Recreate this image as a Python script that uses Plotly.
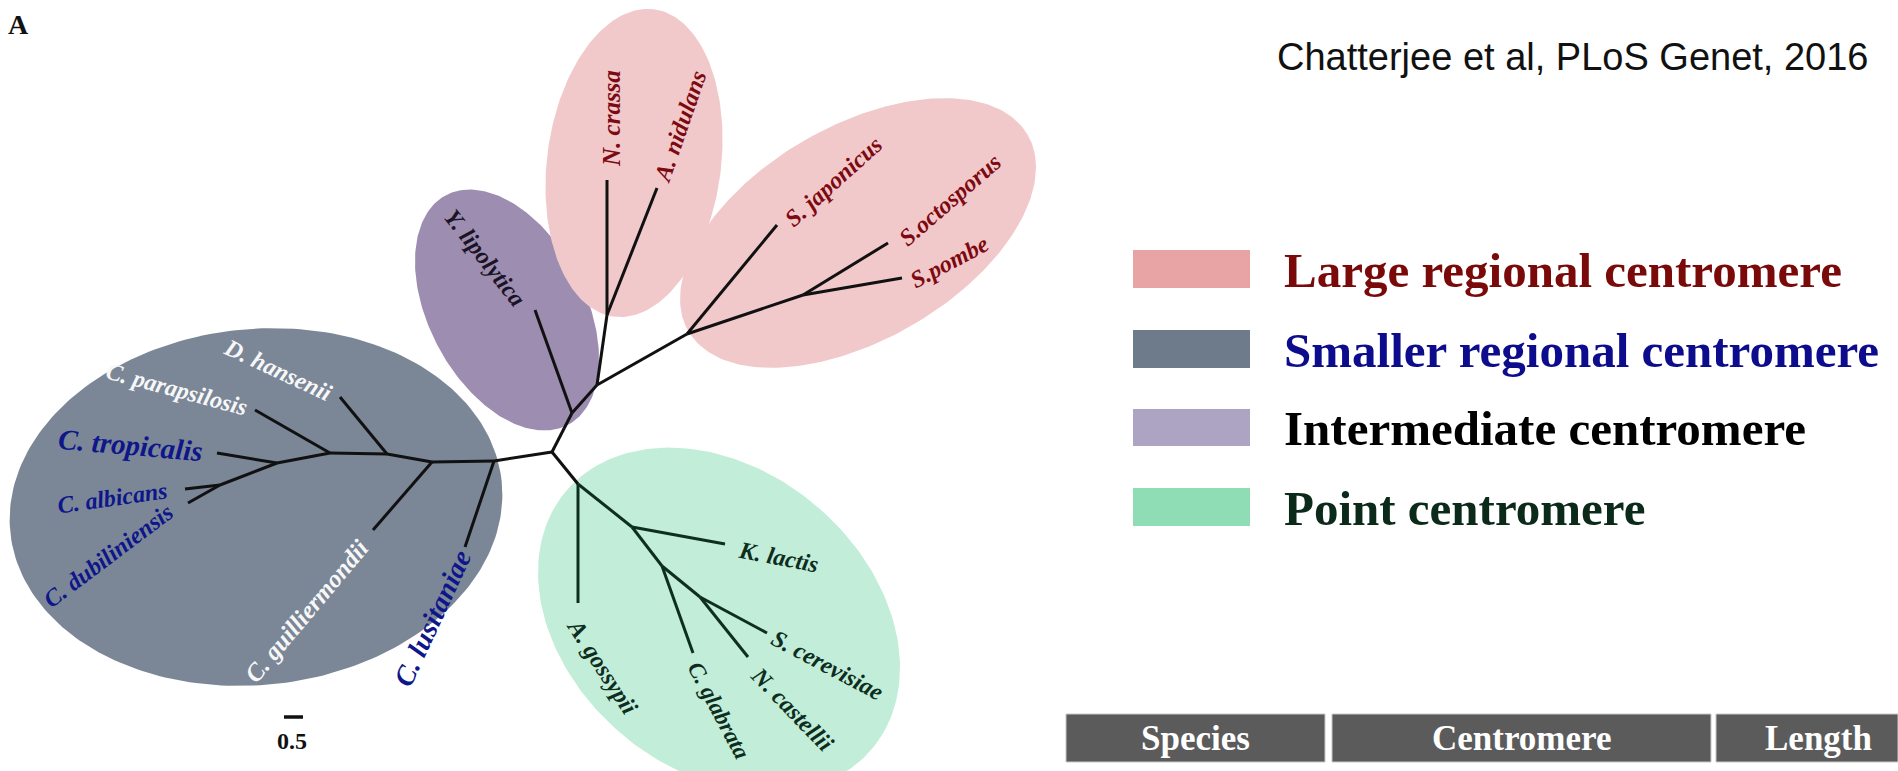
import numpy as np
import plotly.graph_objects as go

W, H = 1898, 771

# ---------------- tree layout (node positions, layout units) ----------------
node_id = ["root", "lusN", "guiN", "hanN", "parN", "troN", "albN",
           "lus", "gui", "han", "par", "tro", "alb", "dub",
           "yliN", "yli", "fungN", "pezN", "ncr", "anid",
           "schN", "sjap", "pomN", "soct", "spom",
           "agoN", "agos", "klaN", "klac", "cglN", "cgla", "sceN", "scer", "ncas"]
node_x = [552, 494, 432, 387, 330, 277, 220,
          465, 373, 340, 255, 217, 185, 188,
          572, 535, 597, 607, 607, 657,
          687, 777, 803, 888, 902,
          578, 578, 632, 725, 662, 693, 700, 767, 748]
node_y = [452, 461, 462, 454, 453, 463, 485,
          547, 530, 397, 410, 453, 489, 503,
          413, 310, 385, 315, 180, 188,
          334, 225, 295, 243, 278,
          484, 603, 527, 544, 566, 653, 597, 633, 657]

edges_dark = [("root", "lusN"), ("lusN", "guiN"), ("guiN", "hanN"), ("hanN", "parN"),
              ("parN", "troN"), ("troN", "tro"), ("troN", "albN"), ("albN", "alb"),
              ("albN", "dub"), ("parN", "par"), ("hanN", "han"), ("guiN", "gui"),
              ("lusN", "lus"), ("root", "yliN"), ("yliN", "yli"), ("yliN", "fungN"),
              ("fungN", "pezN"), ("pezN", "ncr"), ("pezN", "anid"), ("fungN", "schN"),
              ("schN", "sjap"), ("schN", "pomN"), ("pomN", "soct"), ("pomN", "spom"),
              ("root", "agoN")]
edges_green = [("agoN", "agos"), ("agoN", "klaN"), ("klaN", "klac"), ("klaN", "cglN"),
               ("cglN", "cgla"), ("cglN", "sceN"), ("sceN", "scer"), ("sceN", "ncas")]

# ---------------- clade ellipses ----------------
ell_cx = [256, 507, 634, 858, 719]
ell_cy = [507, 310, 163, 233, 620]
ell_a = [247, 130, 155, 196, 200]
ell_b = [178, 78, 87, 107, 150]
ell_rot = [-6, 62, -82.6, -30, 40]
ell_fill = ["#7B8797", "#9D8DB1", "#F2C9CB", "#F2C9CB", "#C2EDD8"]

# ---------------- species labels ----------------
lab_text = ["D. hansenii", "C. parapsilosis", "C. tropicalis", "C. albicans",
            "C. dubiliniensis", "C. guilliermondii", "C. lusitaniae",
            "Y. lipolytica", "N. crassa", "A. nidulans", "S. japonicus",
            "S.octosporus", "S.pombe", "K. lactis", "A. gossypii",
            "C. glabrata", "N. castellii", "S. cerevisiae"]
lab_x = [278, 176, 130, 112, 108, 306, 432, 485, 611, 680, 833, 950, 949,
         778, 602, 719, 792, 827]
lab_y = [370, 389, 445, 498, 556, 611, 618, 258, 119, 127, 182, 200, 262,
         557, 666, 710, 709, 665]
lab_angle = [25, 15, 5, -8, -37, -50, -65, 52, -90, -71, -42, -41, -28,
             11, 57, 62, 46, 28]
lab_size = [24, 24, 29, 24, 24, 25, 28, 24, 25, 24, 24, 24, 24,
            24, 24, 23, 24, 24]
WHITE, NAVY, DKRED, DKGRN, DARK = "#F7F7F7", "#0E168A", "#7D0A12", "#0D2E1E", "#1B1426"
lab_color = [WHITE, WHITE, NAVY, NAVY, NAVY, WHITE, NAVY, DARK, DKRED, DKRED,
             DKRED, DKRED, DKRED, DKGRN, DKGRN, DKGRN, DKGRN, DKGRN]

# ---------------- legend ----------------
leg_text = ["Large regional centromere", "Smaller regional centromere",
            "Intermediate centromere", "Point centromere"]
leg_box_color = ["#E8A3A5", "#6E7B8B", "#ADA3C2", "#8EDDB5"]
leg_text_color = ["#7A0A0A", "#0C0C8C", "#000000", "#0B2A1A"]
leg_y0 = [250, 330, 409, 488]
leg_y1 = [288, 368, 446, 526]

# ---------------- table header ----------------
tab_text = ["Species", "Centromere", "Length"]
tab_x0 = [1066, 1332, 1716]
tab_x1 = [1325, 1711, 1898]

citation = "Chatterjee et al, PLoS Genet, 2016"

fig = go.Figure()

# ellipses
t = np.linspace(0, 2 * np.pi, 240)
for cx, cy, a, b, r, col in zip(ell_cx, ell_cy, ell_a, ell_b, ell_rot, ell_fill):
    th = np.deg2rad(r)
    ex = cx + a * np.cos(t) * np.cos(th) - b * np.sin(t) * np.sin(th)
    ey = cy + a * np.cos(t) * np.sin(th) + b * np.sin(t) * np.cos(th)
    fig.add_trace(go.Scatter(x=ex, y=ey, mode="lines", fill="toself",
                             fillcolor=col, line=dict(width=0, color=col),
                             hoverinfo="skip"))

pos = {n: (x, y) for n, x, y in zip(node_id, node_x, node_y)}


def edge_xy(edges):
    xs, ys = [], []
    for a, b in edges:
        xs += [pos[a][0], pos[b][0], None]
        ys += [pos[a][1], pos[b][1], None]
    return xs, ys


for edges, col in [(edges_dark, "#111111"), (edges_green, "#0E2F20")]:
    xs, ys = edge_xy(edges)
    fig.add_trace(go.Scatter(x=xs, y=ys, mode="lines",
                             line=dict(color=col, width=3), hoverinfo="skip"))

# scale bar
fig.add_trace(go.Scatter(x=[284, 303], y=[717, 717], mode="lines",
                         line=dict(color="#111111", width=3.5), hoverinfo="skip"))

ann = []
for txt, x, y, ang, sz, col in zip(lab_text, lab_x, lab_y, lab_angle, lab_size, lab_color):
    ann.append(dict(x=x, y=y, text="<b><i>%s</i></b>" % txt, showarrow=False,
                    textangle=ang, xanchor="center", yanchor="middle",
                    font=dict(family="Liberation Serif", size=sz, color=col)))

ann.append(dict(x=292, y=741, text="<b>0.5</b>", showarrow=False,
                font=dict(family="Liberation Serif", size=24, color="#111111")))
ann.append(dict(x=6, y=24, text="<b>A</b>", showarrow=False, xanchor="left",
                font=dict(family="Liberation Serif", size=28, color="#111111")))
ann.append(dict(x=1275, y=57, text=citation, showarrow=False, xanchor="left",
                font=dict(family="Liberation Sans", size=38, color="#111111")))

shapes = []
for txt, bc, tc, y0, y1 in zip(leg_text, leg_box_color, leg_text_color, leg_y0, leg_y1):
    shapes.append(dict(type="rect", x0=1133, x1=1250, y0=y0, y1=y1,
                       fillcolor=bc, line=dict(width=0), layer="above"))
    ann.append(dict(x=1282, y=(y0 + y1) / 2 + 1, text="<b>%s</b>" % txt, showarrow=False,
                    xanchor="left", yanchor="middle",
                    font=dict(family="Liberation Serif", size=49, color=tc)))

for txt, x0, x1 in zip(tab_text, tab_x0, tab_x1):
    shapes.append(dict(type="rect", x0=x0, x1=x1, y0=714, y1=762,
                       fillcolor="#5B5B5B", line=dict(width=1, color="#C8C8C8"),
                       layer="above"))
    ann.append(dict(x=(x0 + x1) / 2 if x1 < W else 1818, y=738, text="<b>%s</b>" % txt,
                    showarrow=False, xanchor="center", yanchor="middle",
                    font=dict(family="Liberation Serif", size=35, color="#FFFFFF")))

fig.update_layout(width=W, height=H, margin=dict(l=0, r=0, t=0, b=0),
                  paper_bgcolor="white", plot_bgcolor="white", showlegend=False,
                  xaxis=dict(range=[0, W], visible=False, fixedrange=True),
                  yaxis=dict(range=[H, 0], visible=False, fixedrange=True),
                  annotations=ann, shapes=shapes)

fig.write_html("out.html", config={"displayModeBar": False, "staticPlot": True},
               post_script="document.body.style.margin='0';"
                           "document.body.style.overflow='hidden';")
